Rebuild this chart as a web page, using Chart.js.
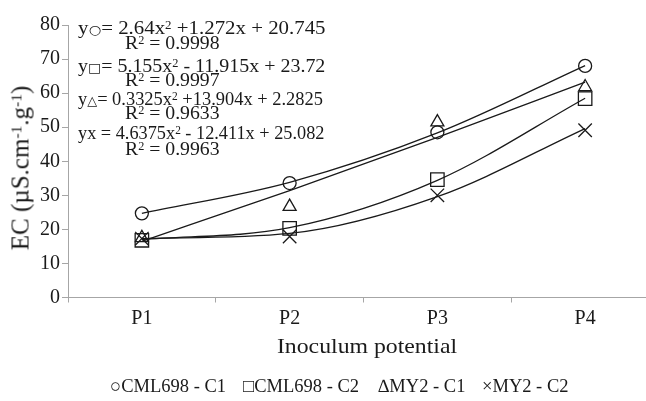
<!DOCTYPE html>
<html>
<head>
<meta charset="utf-8">
<script src="https://cdn.jsdelivr.net/npm/chart.js"></script>
<style>
html, body { margin: 0; padding: 0; overflow: hidden; background: #fff; width: 646px; height: 401px; }
#wrap { position: absolute; left: 0; top: 0; width: 670px; height: 401px; }
.txt { position: absolute; font-family: "Liberation Serif", serif; color: #1a1a1a; white-space: nowrap; line-height: 1; }
.sup { font-size: 0.62em; position: relative; top: -0.45em; }
.sym { font-family: "DejaVu Sans", sans-serif; font-size: 0.7em; }
</style>
</head>
<body>
<div id="wrap"><canvas id="graphEC" width="670" height="401"></canvas></div>
<div id="notes"></div>
<script>
// categories
const labels = ['P1', 'P2', 'P3', 'P4'];

// measured points
const cml698C1 = [24.7, 33.6, 48.5, 68.0];
const cml698C2 = [16.8, 20.3, 34.6, 58.4];
const my2C1 = [17.5, 26.7, 51.5, 61.8];
const my2C2 = [17.3, 17.9, 30.0, 49.1];

// trend line values at each category
const fitCml698C1 = [24.7, 33.8, 48.3, 68.1];
const fitCml698C2 = [17.0, 20.5, 34.4, 58.5];
const fitMy2C1 = [16.5, 31.4, 47.0, 63.2];
const fitMy2C2 = [17.3, 18.8, 29.6, 49.6];

// y ticks
const yTicks = [0, 10, 20, 30, 40, 50, 60, 70, 80];

// equations box
const equations = [
    'y<span class="sym">○</span>= 2.64x<span class="sup">2</span> +1.272x + 20.745',
    'R<span class="sup">2</span> = 0.9998',
    'y<span class="sym">□</span>= 5.155x<span class="sup">2</span> - 11.915x + 23.72',
    'R<span class="sup">2</span> = 0.9997',
    'y<span class="sym">△</span>= 0.3325x<span class="sup">2</span> +13.904x + 2.2825',
    'R<span class="sup">2</span> = 0.9633',
    'yx = 4.6375x<span class="sup">2</span> - 12.411x + 25.082',
    'R<span class="sup">2</span> = 0.9963'
];

const legendItems = ['○CML698 - C1', '□CML698 - C2', '∆MY2 - C1', '×MY2 - C2'];

const ink = '#1a1a1a';
const axisGray = '#a6a6a6';

function pointSet(label, data, style, radius) {
    return {
        label: label,
        data: data,
        showLine: false,
        pointStyle: style,
        pointRadius: radius,
        pointHoverRadius: radius,
        pointBorderColor: ink,
        pointBackgroundColor: 'rgba(0,0,0,0)',
        pointBorderWidth: 1.3,
        order: 1
    };
}

function trendSet(data) {
    return {
        label: 'trend',
        data: data,
        borderColor: ink,
        borderWidth: 1.3,
        pointRadius: 0,
        fill: false,
        cubicInterpolationMode: 'monotone',
        order: 2
    };
}

const ECChart = new Chart(document.getElementById('graphEC'), {
    type: 'line',
    data: {
        labels: labels,
        datasets: [
            pointSet('CML698 - C1', cml698C1, 'circle', 6.5),
            pointSet('CML698 - C2', cml698C2, 'rect', 9.5),
            pointSet('MY2 - C1', my2C1, 'triangle', 7.5),
            pointSet('MY2 - C2', my2C2, 'crossRot', 9.5),
            trendSet(fitCml698C1),
            trendSet(fitCml698C2),
            trendSet(fitMy2C1),
            trendSet(fitMy2C2)
        ]
    },
    options: {
        responsive: false,
        animation: false,
        devicePixelRatio: 1,
        layout: { padding: { top: 25, right: 11, left: 0, bottom: 0 } },
        plugins: { legend: { display: false }, tooltip: { enabled: false } },
        scales: {
            x: {
                offset: true,
                grid: { offset: true, drawOnChartArea: false, drawTicks: true, tickLength: 5, color: axisGray },
                border: { color: axisGray, width: 1 },
                ticks: { color: ink, padding: 4, font: { family: 'Liberation Serif', size: 20 } },
                afterFit: s => { s.height = 103.5; }
            },
            y: {
                min: 0,
                max: 80,
                afterBuildTicks: s => { s.ticks = yTicks.map(v => ({ value: v })); },
                grid: { drawOnChartArea: false, tickLength: 6, color: axisGray },
                border: { color: axisGray, width: 1 },
                ticks: { color: ink, padding: 2, font: { family: 'Liberation Serif', size: 20 } },
                afterFit: s => { s.width = 68; }
            }
        }
    }
});

// text overlays
const notes = document.getElementById('notes');
function addText(html, left, top, size, extra) {
    const d = document.createElement('div');
    d.className = 'txt';
    d.innerHTML = html;
    d.style.left = left + 'px';
    d.style.top = top + 'px';
    d.style.fontSize = size + 'px';
    if (extra) Object.assign(d.style, extra);
    notes.appendChild(d);
    return d;
}

// equation lines squeezed to the width they take in the picture
const eqTops = [19, 34, 57, 71, 90, 104, 124, 140];
const eqWidths = [247, 95, 247, 95, 245, 95, 246, 95];
equations.forEach((e, i) => {
    const d = addText(e, i % 2 ? 125 : 78, eqTops[i], 18.5, { transformOrigin: 'left top' });
    d.style.transform = 'scaleX(' + (eqWidths[i] / d.offsetWidth) + ')';
});

addText('EC (µS.cm<span class="sup">-1</span>.g<span class="sup">-1</span>)', 20, 168, 25,
    { transform: 'translate(-50%, -50%) rotate(-90deg)' });

addText('Inoculum potential', 367, 346, 22, { transform: 'translate(-50%, -50%) scaleX(1.08)' });

const legendX = [110, 243, 378, 482];
legendItems.forEach((t, i) => {
    addText(t, legendX[i], 377, 18.5);
});
</script>
</body>
</html>
